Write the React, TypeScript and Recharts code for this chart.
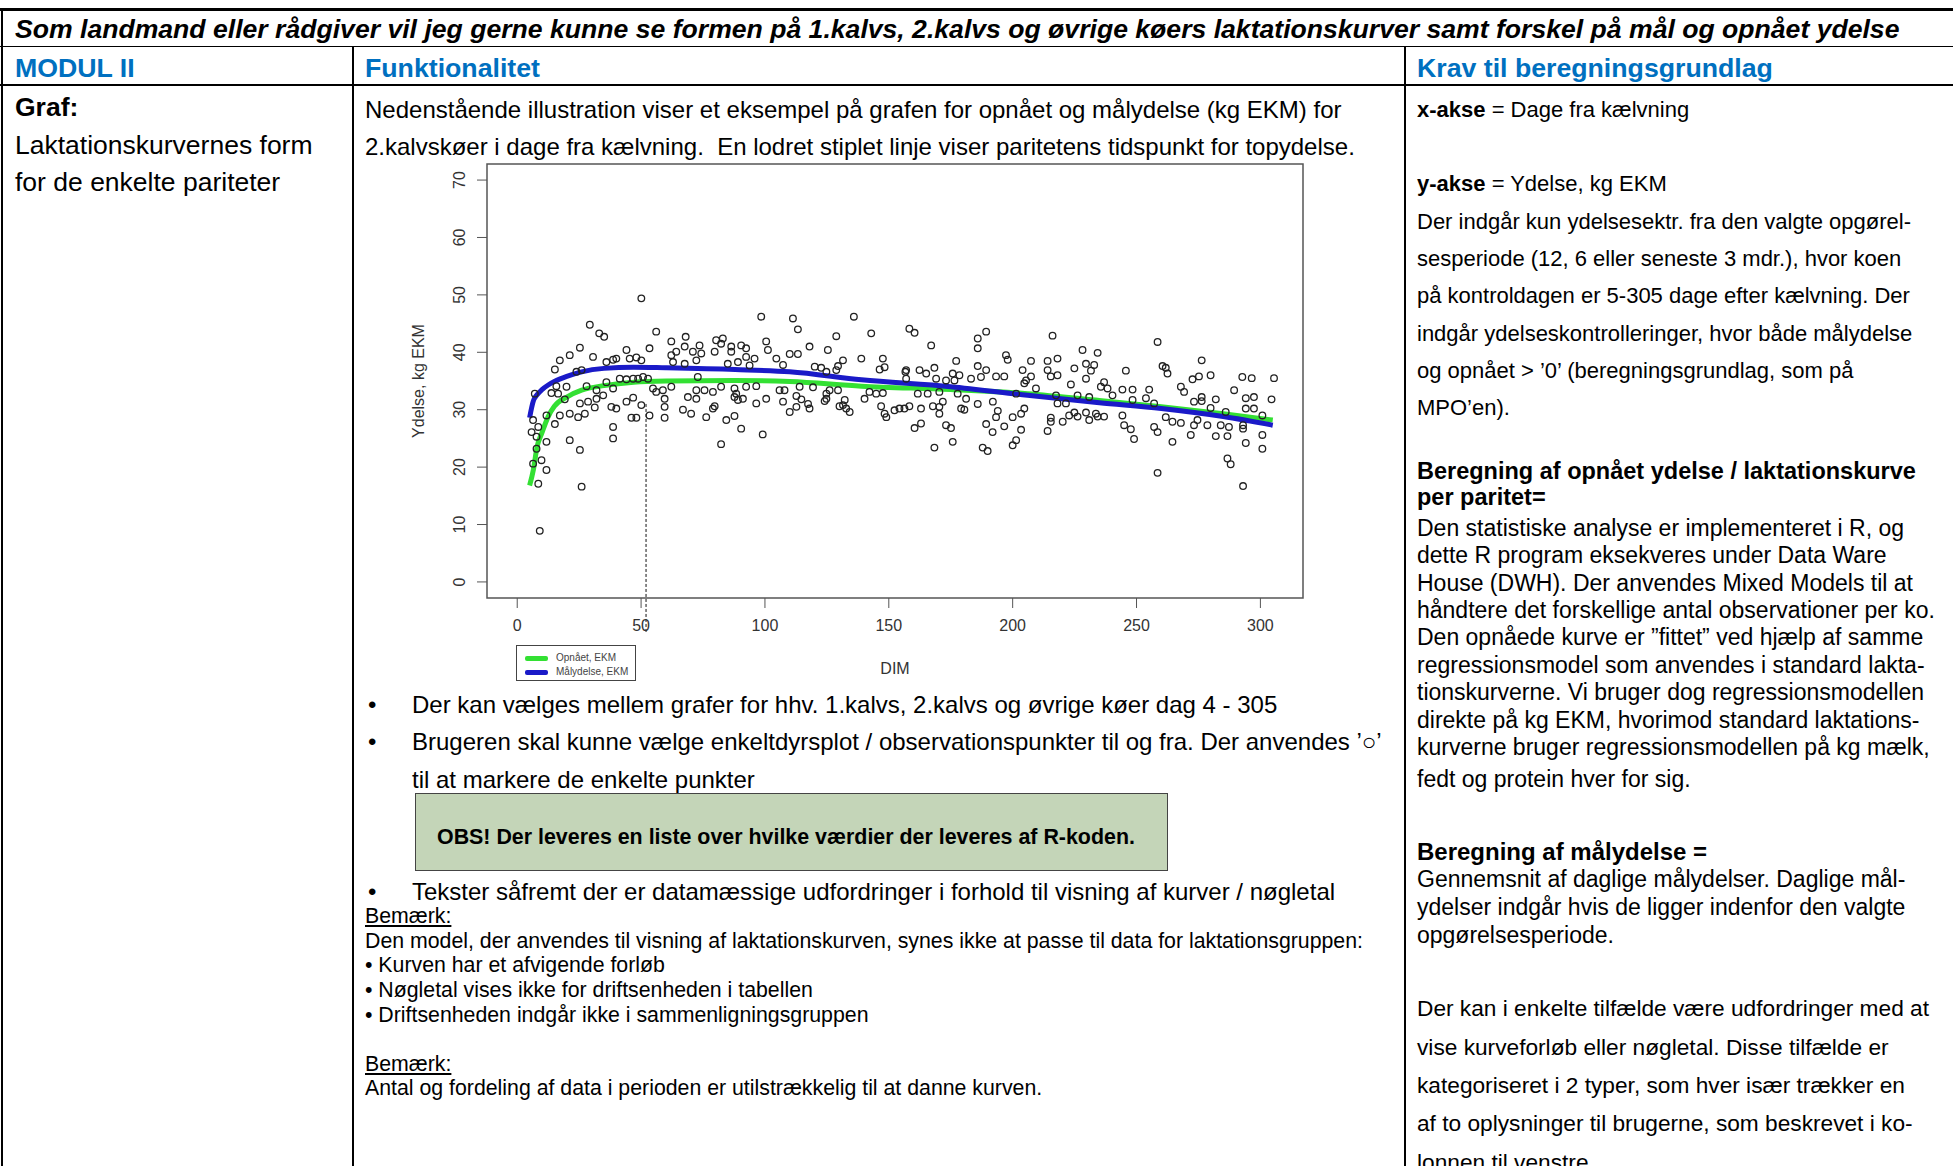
import {ComposedChart, Line, Scatter, XAxis, YAxis, ReferenceArea, ReferenceLine} from 'recharts'
import {JSX, ReactNode} from 'react'

// DIM (dage fra kælvning) og kg EKM for enkeltobservationer
const observations: [number, number][] = [
	[50.1,49.4],[29.3,44.8],[33.1,43.3],[35.1,42.7],[25.3,40.8],[21.2,39.5],[17.2,38.6],[15.2,37.0],[30.6,39.2],[44.1,40.4],
	[45.4,38.9],[48.1,39.1],[50.1,38.6],[36.0,38.3],[38.7,38.7],[40.0,38.9],[23.9,36.6],[26.0,36.9],[41.4,35.4],[44.1,35.3],
	[46.8,35.4],[48.8,35.4],[50.8,35.7],[15.8,34.1],[13.8,32.9],[16.5,32.8],[19.9,34.0],[19.2,31.8],[7.1,32.8],[28.0,34.1],
	[32.0,33.4],[36.0,34.8],[38.7,33.7],[25.3,31.1],[28.6,31.4],[32.0,31.9],[34.7,32.5],[44.1,31.4],[46.8,32.1],[50.1,30.8],
	[17.2,29.0],[21.2,29.3],[24.6,28.7],[27.3,29.3],[31.3,30.4],[38.0,30.5],[40.0,30.2],[46.1,28.6],[48.1,28.6],[11.8,29.0],
	[15.2,27.5],[6.4,28.2],[8.5,27.0],[5.8,26.1],[7.8,25.3],[11.8,24.4],[7.8,23.2],[9.8,21.2],[11.8,19.5],[6.4,20.6],
	[8.5,17.1],[21.2,24.7],[25.3,23.0],[38.7,27.0],[38.7,25.0],[26.0,16.6],[9.1,8.9],
	[98.5,46.2],[56.1,43.6],[62.2,41.9],[68.0,42.7],[53.4,40.7],[62.2,39.5],[64.2,40.1],[67.6,41.0],[70.9,40.1],[73.6,41.2],
	[74.3,39.8],[80.3,42.1],[82.3,41.5],[83.0,42.4],[79.7,40.1],[86.4,41.0],[86.4,40.1],[90.4,41.2],[92.4,40.7],[92.4,39.2],
	[95.8,38.9],[100.5,41.9],[101.2,40.4],[62.9,38.3],[67.6,38.0],[72.3,38.6],[85.0,38.0],[89.1,38.3],[93.8,37.7],[52.8,35.4],
	[54.8,33.7],[56.1,33.1],[58.8,33.4],[62.2,34.0],[72.9,35.7],[72.3,33.4],[75.6,33.4],[79.0,33.1],[82.3,34.0],[87.7,33.7],
	[88.4,32.8],[91.1,31.9],[92.4,34.0],[96.5,34.1],[59.5,31.9],[59.5,30.5],[68.9,32.2],[72.3,31.9],[87.7,32.2],[89.1,31.7],
	[100.5,31.9],[53.4,29.0],[59.5,28.6],[66.9,30.0],[70.2,29.3],[76.3,28.7],[79.0,30.2],[79.7,30.6],[84.4,28.2],[87.7,28.9],
	[90.4,26.7],[96.5,31.1],[99.1,25.7],[82.3,24.0],
	[111.3,45.9],[113.3,44.0],[135.9,46.2],[128.8,42.8],[142.9,43.3],[118.0,41.0],[125.4,40.4],[110.0,39.7],[113.3,39.7],[104.6,38.9],
	[107.3,37.8],[120.1,37.5],[122.7,37.3],[124.8,36.6],[129.5,37.6],[131.5,38.6],[128.8,36.9],[138.9,38.9],[147.6,38.9],[146.3,37.0],
	[148.3,37.4],[156.7,36.6],[105.9,33.4],[107.9,33.4],[114.0,34.0],[119.4,33.9],[124.8,32.8],[126.1,33.4],[129.5,33.4],[140.2,31.9],
	[142.2,33.1],[144.9,32.8],[147.6,32.9],[107.3,31.4],[112.7,32.4],[114.7,31.8],[124.8,31.9],[124.1,31.5],[132.2,31.7],[131.5,30.8],
	[132.8,30.2],[134.2,29.6],[130.1,30.6],[110.0,29.6],[112.7,30.5],[117.4,31.0],[118.0,30.2],[146.9,30.6],[148.3,29.3],[149.0,28.7],
	[152.3,29.9],[154.3,30.2],[156.3,30.2],
	[158.3,44.1],[160.4,43.4],[189.3,43.6],[185.9,42.4],[185.9,40.7],[167.1,41.2],[197.3,39.5],[198.0,38.7],[177.2,38.5],[207.4,38.5],
	[157.0,36.9],[162.4,36.9],[165.1,36.3],[168.4,37.3],[175.8,36.3],[178.5,36.0],[176.5,35.1],[185.9,37.6],[189.3,36.9],[183.2,35.4],
	[187.2,35.7],[193.3,35.8],[196.6,35.8],[204.0,36.9],[207.4,35.8],[205.4,35.1],[204.7,34.6],[169.1,35.4],[173.1,35.1],[157.0,35.4],
	[161.7,32.8],[165.7,32.8],[170.4,33.1],[177.8,32.8],[181.2,31.9],[192.0,31.4],[185.9,31.0],[201.4,32.8],[158.3,30.6],[163.0,30.2],
	[167.8,30.6],[170.4,30.5],[171.8,31.4],[179.2,30.2],[180.5,30.0],[170.4,29.3],[193.3,28.7],[194.0,29.8],[200.0,28.7],[203.4,29.3],
	[204.7,30.2],[160.4,26.8],[163.0,27.6],[173.1,27.3],[175.1,26.8],[189.3,27.5],[191.9,26.1],[196.6,27.1],[203.4,26.5],[175.8,24.4],
	[168.4,23.4],[187.9,23.4],[189.9,22.8],[200.0,23.8],[201.4,24.7],
	[216.1,42.9],[258.5,41.8],[228.2,40.4],[234.3,39.9],[214.1,38.5],[218.1,38.9],[214.1,36.9],[215.4,35.8],[218.1,36.0],[224.9,37.2],
	[229.6,38.0],[232.9,37.8],[231.6,36.8],[229.6,35.4],[245.7,36.8],[260.5,37.6],[223.5,34.4],[235.6,34.0],[236.9,34.8],[238.3,33.7],
	[240.3,32.5],[244.3,33.5],[248.4,33.5],[255.1,33.5],[253.8,32.0],[209.4,33.7],[217.5,32.5],[218.1,31.1],[221.5,31.1],[226.2,32.5],
	[230.9,32.2],[248.4,31.7],[257.1,31.1],[222.8,29.0],[224.9,29.5],[226.2,28.8],[220.2,27.9],[215.4,28.6],[215.4,27.9],[229.6,29.5],
	[230.9,28.2],[233.6,29.3],[234.3,28.8],[236.9,28.8],[244.3,29.0],[245.0,27.3],[247.7,26.6],[249.0,24.9],[257.1,27.0],[258.5,26.1],
	[214.1,26.3],[258.5,19.0],
	[276.3,38.6],[261.8,37.3],[262.5,36.3],[272.6,35.3],[275.2,35.8],[279.9,36.0],[292.7,35.7],[296.5,35.5],[305.5,35.5],[267.9,34.0],
	[269.2,33.1],[289.4,33.4],[273.2,31.4],[276.3,32.2],[276.3,31.5],[282.0,31.8],[294.1,32.0],[297.4,32.2],[304.5,31.8],[279.9,30.3],
	[294.1,30.2],[297.4,30.2],[286.0,29.6],[261.8,28.7],[264.5,27.9],[267.9,27.7],[273.2,27.3],[274.6,28.2],[278.6,27.3],[284.0,27.3],
	[287.3,27.0],[293.0,27.3],[293.0,26.7],[300.8,29.0],[271.9,25.6],[282.0,25.4],[286.7,25.4],[264.5,24.4],[294.1,24.2],[300.8,25.6],
	[300.8,23.2],[286.7,21.5],[288.0,20.5],[293.0,16.7],
]

// fittede kurver
const curveDim = [5, 6.5, 8, 10, 12.5, 15, 20, 26, 35, 47, 60, 88, 110, 139, 175, 206, 235, 260, 285, 305]
const opnaaetEkm = [16.8, 19.5, 23.5, 26.0, 28.8, 30.6, 32.2, 33.4, 34.2, 34.8, 35.0, 35.1, 34.9, 34.1, 33.5, 32.8, 31.6, 30.5, 29.3, 28.2]
const maalEkm = [28.6, 31.5, 32.6, 33.5, 34.3, 34.9, 35.8, 36.6, 37.2, 37.4, 37.3, 37.0, 36.6, 35.2, 34.0, 32.5, 31.2, 30.2, 28.8, 27.3]
const topDim = 52

const xTicks = [0, 50, 100, 150, 200, 250, 300]
const yTicks = [0, 10, 20, 30, 40, 50, 60, 70]

const obsData = observations.map(([x, y]) => ({x, y}))
const greenData = curveDim.map((x, i) => ({x, y: opnaaetEkm[i]}))
const blueData = curveDim.map((x, i) => ({x, y: maalEkm[i]}))

const FONT = '"Liberation Sans", Arial, sans-serif'
const GREEN = '#33e033'
const BLUE = '#1a1ac8'

const Ring = (p: any) => <circle cx={p.cx} cy={p.cy} r={3.3} fill="none" stroke="#222" strokeWidth={1.3} />

const YTick = ({x, y, payload}: any) => (
	<text transform={`translate(${x - 16},${y}) rotate(-90)`} textAnchor="middle" dominantBaseline="central" fontSize={16} fill="#333" fontFamily={FONT}>
		{payload.value}
	</text>
)

const legendText = {position: 'absolute', left: 39, fontSize: 10, whiteSpace: 'nowrap', lineHeight: '12px'} as const

const LactationChart = (): JSX.Element => (
	<div style={{position: 'absolute', left: 400, top: 150}}>
		<ComposedChart width={913} height={538} margin={{top: 14, right: 10, bottom: 10, left: 0}}>
			<XAxis type="number" dataKey="x" domain={[-12.2, 317.2]} allowDataOverflow ticks={xTicks} axisLine={false}
				tickSize={10} tickMargin={12} height={80} stroke="#555" tick={{fontSize: 16, fill: '#333', fontFamily: FONT}}
				label={({viewBox}: any) => (
					<text x={viewBox.x + viewBox.width / 2} y={518} textAnchor="middle" dominantBaseline="central" fontSize={16} fill="#333" fontFamily={FONT}>DIM</text>
				)} />
			<YAxis type="number" dataKey="y" domain={[-2.8, 72.8]} allowDataOverflow ticks={yTicks} axisLine={false}
				tickSize={10} width={87} stroke="#555" tick={<YTick />}
				label={() => (
					<text transform="translate(18,231) rotate(-90)" textAnchor="middle" dominantBaseline="central" fontSize={16} fill="#333" fontFamily={FONT}>Ydelse, kg EKM</text>
				)} />
			<ReferenceArea x1={-12.2} x2={317.2} y1={-2.8} y2={72.8} fill="none" stroke="#555" strokeWidth={1.5} ifOverflow="visible" />
			<ReferenceLine segment={[{x: topDim, y: 31}, {x: topDim, y: -9}]} stroke="#111" strokeDasharray="3 2" ifOverflow="visible" />
			<Scatter data={obsData} dataKey="y" shape={Ring} isAnimationActive={false} />
			<Line data={greenData} dataKey="y" type="monotone" stroke={GREEN} strokeWidth={5} dot={false} isAnimationActive={false} />
			<Line data={blueData} dataKey="y" type="monotone" stroke={BLUE} strokeWidth={5} dot={false} isAnimationActive={false} />
		</ComposedChart>
		<div style={{position: 'absolute', left: 116, top: 495, width: 120, height: 36, boxSizing: 'border-box', border: '1.5px solid #444', background: '#fff', fontFamily: FONT, color: '#444'}}>
			<div style={{position: 'absolute', left: 8, top: 10, width: 23, height: 5, background: GREEN, borderRadius: 2}} />
			<div style={{...legendText, top: 6}}>Opnået, EKM</div>
			<div style={{position: 'absolute', left: 8, top: 24, width: 23, height: 5, background: BLUE, borderRadius: 2}} />
			<div style={{...legendText, top: 20}}>Målydelse, EKM</div>
		</div>
	</div>
)

type TProps = {x: number, y: number, size: number, lh?: number, bold?: boolean, italic?: boolean, color?: string, underline?: boolean, children: ReactNode}
const T = ({x, y, size, lh = 1.2, bold, italic, color, underline, children}: TProps): JSX.Element => (
	<div style={{position: 'absolute', left: x, top: y - size * lh / 2, lineHeight: `${size * lh}px`, fontSize: size, whiteSpace: 'pre',
		fontWeight: bold ? 'bold' : 'normal', fontStyle: italic ? 'italic' : 'normal', color: color || '#000', textDecoration: underline ? 'underline' : 'none'}}>
		{children}
	</div>
)

const HLine = ({y, w = 1.5}: {y: number, w?: number}) => <div style={{position: 'absolute', left: 0, top: y, width: 1953, height: w, background: '#000'}} />
const VLine = ({x, y0, w = 1.5}: {x: number, y0: number, w?: number}) => <div style={{position: 'absolute', left: x, top: y0, width: w, height: 1166 - y0, background: '#000'}} />

const rightLines1 = [
	'Der indgår kun ydelsesektr. fra den valgte opgørel-',
	'sesperiode (12, 6 eller seneste 3 mdr.), hvor koen',
	'på kontroldagen er 5-305 dage efter kælvning. Der',
	'indgår ydelseskontrolleringer, hvor både målydelse',
	'og opnået > \u20190\u2019 (beregningsgrundlag, som på',
	'MPO\u2019en).',
]
const rightLines2 = [
	'Den statistiske analyse er implementeret i R, og',
	'dette R program eksekveres under Data Ware',
	'House (DWH). Der anvendes Mixed Models til at',
	'håndtere det forskellige antal observationer per ko.',
	'Den opnåede kurve er \u201dfittet\u201d ved hjælp af samme',
	'regressionsmodel som anvendes i standard lakta-',
	'tionskurverne. Vi bruger dog regressionsmodellen',
	'direkte på kg EKM, hvorimod standard laktations-',
	'kurverne bruger regressionsmodellen på kg mælk,',
]
const rightLines3 = [
	'Gennemsnit af daglige målydelser. Daglige mål-',
	'ydelser indgår hvis de ligger indenfor den valgte',
	'opgørelsesperiode.',
]
const rightLines4 = [
	'Der kan i enkelte tilfælde være udfordringer med at',
	'vise kurveforløb eller nøgletal. Disse tilfælde er',
	'kategoriseret i 2 typer, som hver især trækker en',
	'af to oplysninger til brugerne, som beskrevet i ko-',
	'lonnen til venstre.',
]

const App = (): JSX.Element => {
	const blue = '#0070c0'
	return (
		<div style={{position: 'absolute', left: 0, top: 0, width: 1953, height: 1166, overflow: 'hidden', background: '#fff', fontFamily: FONT}}>
			<HLine y={8} w={2.5} />
			<HLine y={45.5} />
			<HLine y={84} />
			<VLine x={1} y0={8} w={2} />
			<VLine x={352} y0={46} />
			<VLine x={1404} y0={46} />

			<T x={15} y={30} size={26.6} bold italic>Som landmand eller rådgiver vil jeg gerne kunne se formen på 1.kalvs, 2.kalvs og øvrige køers laktationskurver samt forskel på mål og opnået ydelse</T>
			<T x={15} y={68} size={26.7} bold color={blue}>MODUL II</T>
			<T x={365} y={68} size={26.7} bold color={blue}>Funktionalitet</T>
			<T x={1417} y={68} size={26.7} bold color={blue}>Krav til beregningsgrundlag</T>

			<T x={15} y={108} size={26.5} bold>Graf:</T>
			<T x={15} y={146} size={26.5}>Laktationskurvernes form</T>
			<T x={15} y={183} size={26.5}>for de enkelte pariteter</T>

			<T x={365} y={110} size={24}>Nedenstående illustration viser et eksempel på grafen for opnået og målydelse (kg EKM) for</T>
			<T x={365} y={147} size={24}>{'2.kalvskøer i dage fra kælvning.  En lodret stiplet linje viser paritetens tidspunkt for topydelse.'}</T>

			<LactationChart />

			<T x={368} y={705} size={24}>•</T>
			<T x={412} y={705} size={24}>Der kan vælges mellem grafer for hhv. 1.kalvs, 2.kalvs og øvrige køer dag 4 - 305</T>
			<T x={368} y={742} size={24}>•</T>
			<T x={412} y={742} size={24}>{'Brugeren skal kunne vælge enkeltdyrsplot / observationspunkter til og fra. Der anvendes \u2019\u25cb\u2019'}</T>
			<T x={412} y={780} size={24}>til at markere de enkelte punkter</T>
			<div style={{position: 'absolute', left: 415, top: 793, width: 753, height: 78, boxSizing: 'border-box', background: '#c4d5b8', border: '1.5px solid #444'}} />
			<T x={437} y={838} size={21.4} bold>OBS! Der leveres en liste over hvilke værdier der leveres af R-koden.</T>
			<T x={368} y={892} size={24}>•</T>
			<T x={412} y={892} size={24}>Tekster såfremt der er datamæssige udfordringer i forhold til visning af kurver / nøgletal</T>
			<T x={365} y={917} size={21.3} lh={1.1} underline>Bemærk:</T>
			<T x={365} y={942} size={21.3} lh={1.1}>Den model, der anvendes til visning af laktationskurven, synes ikke at passe til data for laktationsgruppen:</T>
			<T x={365} y={966} size={21.3} lh={1.1}>• Kurven har et afvigende forløb</T>
			<T x={365} y={991} size={21.3} lh={1.1}>• Nøgletal vises ikke for driftsenheden i tabellen</T>
			<T x={365} y={1016} size={21.3} lh={1.1}>• Driftsenheden indgår ikke i sammenligningsgruppen</T>
			<T x={365} y={1065} size={21.3} lh={1.1} underline>Bemærk:</T>
			<T x={365} y={1089} size={21.3} lh={1.1}>Antal og fordeling af data i perioden er utilstrækkelig til at danne kurven.</T>

			<T x={1417} y={110} size={22}><b>x-akse</b> = Dage fra kælvning</T>
			<T x={1417} y={184} size={22}><b>y-akse</b> = Ydelse, kg EKM</T>
			{rightLines1.map((s, i) => <T key={s} x={1417} y={222 + i * 37.3} size={22}>{s}</T>)}
			<T x={1417} y={471} size={23.5} lh={1.05} bold>Beregning af opnået ydelse / laktationskurve</T>
			<T x={1417} y={497} size={23.5} lh={1.05} bold>per paritet=</T>
			{rightLines2.map((s, i) => <T key={s} x={1417} y={528 + i * 27.4} size={23} lh={1.15}>{s}</T>)}
			<T x={1417} y={780} size={23}>fedt og protein hver for sig.</T>
			<T x={1417} y={852} size={24} bold>Beregning af målydelse =</T>
			{rightLines3.map((s, i) => <T key={s} x={1417} y={879 + i * 28} size={23} lh={1.15}>{s}</T>)}
			{rightLines4.map((s, i) => <T key={s} x={1417} y={1009 + i * 38.3} size={22.7}>{s}</T>)}
		</div>
	)
}

export default App
